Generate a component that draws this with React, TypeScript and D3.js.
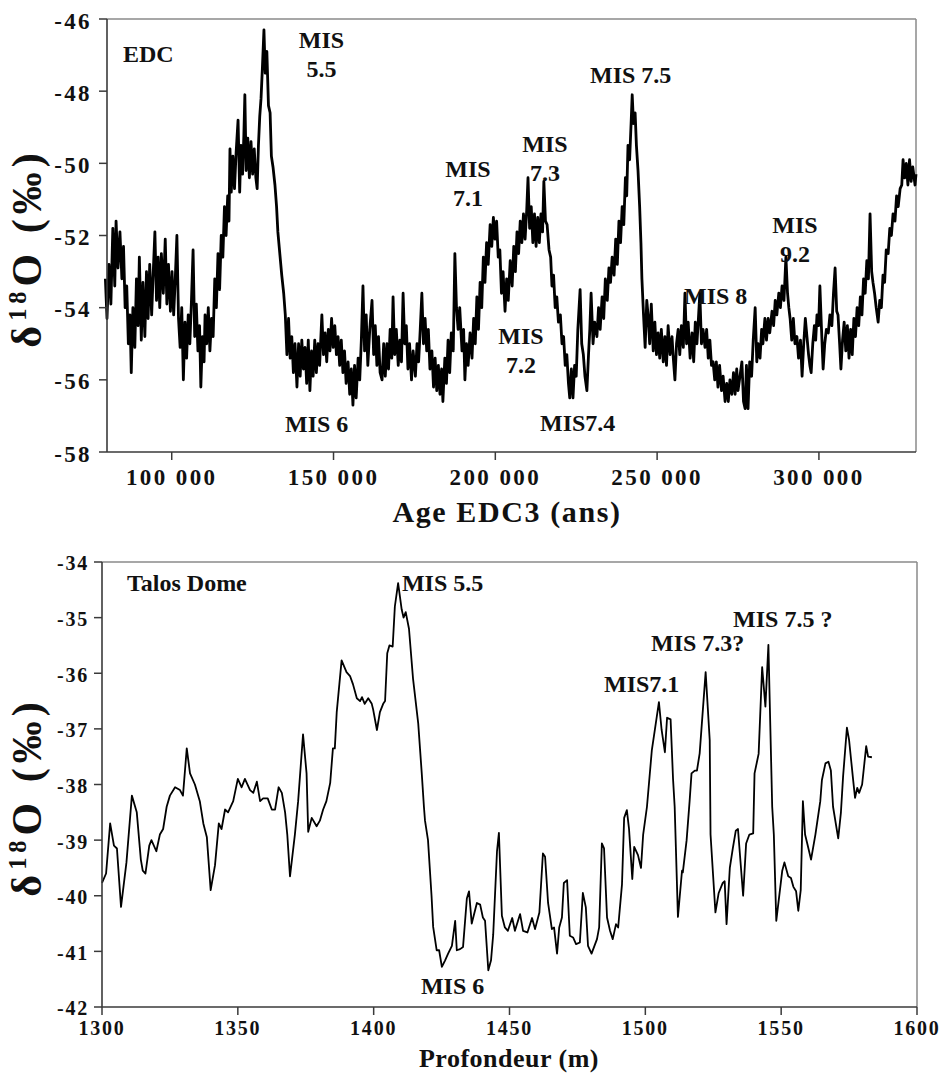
import React from 'react';
import * as d3 from 'd3';

// ---------- Data ----------
const edcYTicks = [-58, -56, -54, -52, -50, -48, -46];
const edcXTicks = [100000, 150000, 200000, 250000, 300000];
const edcXTickLabels = ['100 000', '150 000', '200 000', '250 000', '300 000'];

const talosYTicks = [-42, -41, -40, -39, -38, -37, -36, -35, -34];
const talosXTicks = [1300, 1350, 1400, 1450, 1500, 1550, 1600];

// EDC δ18O vs age (ka)
const edcSeries: [number, number][] = [
  [79.5,-53.2],[80,-54.3],[80.6,-52.8],[81.2,-53.9],[81.8,-51.8],[82.4,-53.4],[82.8,-51.6],[83.4,-52.9],[84,-51.9],[84.6,-53.2],
  [85.1,-52.3],[85.6,-54.0],[86.1,-53.4],[86.6,-55.0],[87.1,-54.2],[87.5,-55.8],[88.0,-54.0],[88.6,-55.1],[89.1,-53.2],[89.6,-54.5],
  [90.0,-52.6],[90.6,-54.9],[91.1,-53.3],[91.7,-54.8],[92.2,-53.0],[92.7,-54.3],[93.2,-52.8],[93.8,-54.2],[94.3,-53.0],[94.8,-51.9],
  [95.3,-53.8],[95.8,-52.6],[96.3,-54.0],[96.8,-52.5],[97.4,-53.6],[98.0,-52.1],[98.5,-53.9],[99.0,-52.8],[99.6,-54.1],[100.1,-53.0],
  [100.6,-54.2],[101.1,-53.2],[101.6,-52.0],[102.1,-54.3],[102.6,-55.1],[103.1,-54.0],[103.6,-56.0],[104.1,-54.4],[104.6,-55.4],[105.1,-54.2],
  [105.6,-55.0],[106.1,-53.8],[106.6,-52.4],[107.1,-54.8],[107.6,-53.9],[108.1,-55.2],[108.6,-54.5],[109.0,-56.2],[109.5,-54.8],[110.0,-55.5],
  [110.3,-54.2],[110.8,-55.0],[111.3,-54.0],[111.8,-55.2],[112.3,-54.3],[112.8,-54.8],[113.3,-53.2],[113.8,-54.0],[114.3,-52.5],[114.8,-53.5],
  [115.3,-52.0],[115.8,-52.6],[116.3,-51.2],[116.8,-52.0],[117.3,-50.9],[117.7,-51.6],[118.0,-49.6],[118.4,-50.8],[118.9,-49.8],[119.4,-50.7],
  [119.9,-49.7],[120.5,-48.8],[121.0,-50.8],[121.4,-49.5],[121.9,-50.3],[122.3,-49.2],[122.6,-48.1],[123.0,-50.2],[123.5,-49.3],[124.0,-50.4],
  [124.5,-49.4],[125.0,-50.3],[125.5,-49.6],[126.0,-50.4],[126.4,-50.7],[126.8,-49.5],[127.2,-48.7],[127.6,-48.2],[128.0,-47.4],[128.5,-46.3],
  [128.9,-47.5],[129.4,-46.9],[129.9,-48.4],[130.4,-48.6],[130.8,-49.8],[131.3,-50.1],[131.9,-50.6],[132.4,-51.2],[132.8,-51.9],[133.3,-52.4],
  [134.0,-53.1],[134.6,-53.6],[135.1,-54.2],[135.6,-55.3],[136.1,-54.3],[136.6,-55.4],[137.1,-54.8],[137.6,-55.8],[138.1,-55.0],[138.7,-56.2],
  [139.2,-55.0],[139.7,-55.9],[140.2,-54.9],[140.7,-55.7],[141.2,-55.1],[141.7,-56.1],[142.2,-54.9],[142.7,-56.3],[143.2,-55.2],[143.7,-55.9],
  [144.2,-54.9],[144.7,-55.8],[145.2,-55.0],[145.7,-55.6],[146.4,-54.2],[146.9,-55.3],[147.4,-54.7],[147.9,-55.5],[148.4,-54.6],[148.9,-55.2],
  [149.4,-54.3],[149.9,-55.1],[150.4,-54.5],[150.9,-55.3],[151.4,-54.8],[151.9,-55.6],[152.4,-54.9],[152.9,-55.8],[153.4,-55.2],[153.9,-56.1],
  [154.5,-55.5],[155.0,-56.4],[155.5,-55.7],[156.0,-56.7],[156.5,-55.6],[157.0,-56.5],[157.6,-55.4],[158.1,-56.0],[158.6,-54.9],[159.1,-53.4],
  [159.6,-55.2],[160.1,-54.2],[160.6,-55.6],[161.2,-54.6],[161.9,-53.8],[162.4,-55.3],[162.9,-54.5],[163.4,-55.6],[163.9,-54.8],[164.4,-55.8],
  [165.0,-56.0],[165.5,-55.0],[166.0,-55.9],[166.5,-55.0],[167.0,-55.7],[167.5,-54.6],[168.0,-55.4],[168.4,-53.7],[168.9,-55.3],[169.4,-54.6],
  [170.0,-55.6],[170.5,-54.9],[171.0,-55.5],[171.5,-53.6],[172.0,-55.0],[172.5,-54.5],[173.0,-55.7],[173.5,-55.0],[174.1,-56.0],[174.6,-55.2],
  [175.3,-55.9],[175.8,-55.0],[176.3,-55.5],[176.8,-54.6],[177.3,-53.6],[177.8,-55.0],[178.3,-54.3],[178.8,-55.2],[179.3,-54.6],[179.8,-55.7],
  [180.4,-55.2],[180.9,-56.2],[181.4,-55.4],[181.9,-56.3],[182.4,-55.6],[182.9,-56.4],[183.4,-55.7],[183.8,-56.6],[184.4,-55.4],[184.9,-56.1],
  [185.4,-54.9],[185.9,-55.8],[186.4,-54.7],[187.0,-55.2],[187.5,-52.5],[188.0,-54.0],[188.5,-54.6],[189.0,-54.0],[189.7,-55.2],[190.2,-54.6],
  [190.6,-56.0],[191.1,-55.0],[191.6,-55.6],[192.2,-54.7],[192.8,-55.4],[193.3,-54.3],[193.8,-55.0],[194.3,-53.7],[194.8,-54.6],[195.3,-53.3],
  [195.8,-54.0],[196.3,-52.6],[196.8,-53.3],[197.3,-52.2],[197.8,-52.8],[198.4,-51.7],[198.9,-52.3],[199.4,-51.5],[199.9,-52.1],[200.4,-51.6],
  [200.9,-52.6],[201.4,-52.4],[201.9,-53.6],[202.4,-53.0],[203.0,-54.1],[203.5,-53.2],[204.0,-53.8],[204.6,-52.7],[205.2,-53.4],[205.7,-52.3],
  [206.2,-53.0],[206.7,-51.9],[207.2,-52.5],[207.7,-51.6],[208.2,-52.2],[208.7,-51.4],[209.2,-52.1],[209.7,-51.3],[210.1,-50.4],[210.6,-51.8],
  [211.1,-51.2],[211.6,-52.2],[212.1,-51.4],[212.6,-52.3],[213.1,-51.5],[213.6,-52.2],[214.1,-51.4],[214.6,-51.9],[215.0,-50.5],[215.5,-51.6],
  [216.0,-51.7],[216.6,-52.4],[217.1,-52.6],[217.5,-53.4],[218.0,-53.1],[218.5,-54.0],[219.0,-53.7],[219.5,-54.4],[220.1,-54.2],[220.6,-55.0],
  [221.1,-54.8],[221.6,-55.6],[222.1,-55.3],[222.6,-56.1],[223.0,-56.5],[223.5,-55.7],[224.0,-56.5],[224.5,-55.6],[225.0,-55.9],[225.5,-54.6],
  [226.2,-53.5],[226.7,-55.0],[227.2,-55.3],[227.7,-55.9],[228.3,-56.3],[228.8,-55.3],[229.2,-54.6],[229.6,-53.6],[230.2,-55.0],[230.7,-54.4],
  [231.4,-54.8],[231.9,-54.0],[232.4,-54.6],[233.0,-53.7],[233.5,-54.3],[234.0,-53.2],[234.6,-53.8],[235.1,-52.9],[235.6,-53.3],[236.1,-52.6],
  [236.7,-53.1],[237.2,-52.1],[237.7,-52.8],[238.2,-51.6],[238.7,-52.2],[239.2,-51.2],[239.7,-51.7],[240.2,-50.4],[240.6,-50.9],[241.0,-49.5],
  [241.5,-49.9],[242.0,-48.8],[242.3,-48.1],[242.7,-48.9],[243.2,-48.6],[243.6,-49.5],[244.1,-50.2],[244.6,-51.2],[245.0,-52.2],[245.3,-53.2],
  [245.8,-54.2],[246.3,-55.1],[246.8,-53.8],[247.2,-54.2],[247.7,-55.0],[248.2,-53.9],[248.8,-55.2],[249.3,-54.4],[249.8,-55.3],[250.3,-54.7],
  [250.8,-55.4],[251.3,-54.6],[251.9,-55.5],[252.4,-54.8],[252.9,-55.6],[253.4,-54.5],[254.0,-55.3],[254.6,-54.8],[255.0,-55.4],[255.5,-56.0],
  [256.0,-55.0],[256.5,-54.6],[257.0,-55.3],[257.5,-54.5],[258.1,-55.1],[258.6,-53.6],[259.1,-55.0],[259.6,-54.4],[260.2,-55.4],[260.8,-54.7],
  [261.3,-55.5],[261.8,-54.4],[262.3,-55.0],[262.7,-54.4],[263.2,-53.6],[263.7,-55.0],[264.2,-54.6],[264.8,-55.1],[265.3,-54.6],[265.8,-55.4],
  [266.3,-54.9],[266.8,-55.6],[267.3,-55.5],[267.8,-56.0],[268.3,-55.5],[268.8,-56.2],[269.3,-55.6],[269.9,-56.3],[270.4,-55.9],[271.0,-56.6],
  [271.5,-56.1],[272.0,-56.6],[272.5,-56.0],[273.1,-56.4],[273.6,-55.8],[274.1,-56.4],[274.6,-55.7],[275.0,-56.3],[275.6,-55.9],[276.2,-55.5],
  [276.7,-56.6],[277.2,-56.8],[277.6,-55.6],[278.1,-56.8],[278.6,-55.5],[279.2,-55.9],[279.7,-54.9],[280.3,-54.0],[280.8,-55.5],[281.2,-55.0],
  [281.8,-55.4],[282.3,-54.6],[282.7,-55.0],[283.3,-54.3],[283.8,-54.9],[284.3,-54.3],[284.8,-54.7],[285.5,-54.1],[286.0,-54.5],[286.5,-53.8],
  [287.0,-54.2],[287.6,-53.6],[288.1,-54.0],[288.6,-53.4],[289.2,-53.8],[289.8,-52.6],[290.3,-53.6],[290.7,-54.0],[291.1,-54.3],[291.6,-54.9],
  [292.1,-54.3],[292.6,-55.0],[293.2,-54.8],[293.7,-55.4],[294.3,-54.9],[294.8,-55.9],[295.3,-55.0],[295.8,-54.3],[296.3,-54.8],[296.8,-55.3],
  [297.2,-55.6],[297.6,-55.8],[298.1,-55.0],[298.6,-54.5],[299.0,-54.9],[299.4,-54.2],[299.9,-54.5],[300.3,-53.4],[300.8,-54.6],[301.3,-55.7],
  [301.8,-55.0],[302.3,-54.6],[302.9,-54.7],[303.4,-54.2],[304.0,-54.5],[304.5,-53.6],[305.0,-52.9],[305.5,-54.1],[305.9,-54.2],[306.4,-55.0],
  [306.8,-55.7],[307.3,-54.9],[307.8,-54.4],[308.3,-55.2],[308.8,-54.5],[309.3,-55.4],[309.8,-54.6],[310.3,-55.3],[310.8,-54.3],[311.3,-54.8],
  [311.8,-54.0],[312.3,-54.5],[312.8,-53.7],[313.3,-54.2],[313.8,-53.2],[314.3,-53.6],[314.8,-52.7],[315.3,-53.2],[315.8,-51.4],[316.3,-53.0],
  [316.7,-53.3],[317.2,-53.6],[317.7,-54.0],[318.3,-54.4],[318.8,-53.8],[319.3,-54.0],[319.8,-53.1],[320.3,-53.3],[320.8,-52.4],[321.4,-52.5],
  [321.9,-51.8],[322.4,-52.0],[322.9,-51.4],[323.5,-51.6],[324.0,-50.9],[324.5,-51.2],[325.1,-50.7],[325.6,-50.6],[326.0,-49.9],[326.5,-50.4],
  [327.0,-50.0],[327.5,-50.6],[328.0,-49.9],[328.5,-50.5],[329.0,-50.1],[329.7,-50.6],[330.0,-50.3],
];

// Talos Dome δ18O vs depth (m)
const talosSeries: [number, number][] = [
  [1300,-39.77],[1301.5,-39.6],[1303,-38.7],[1304.4,-39.1],[1305.5,-39.15],[1307,-40.2],[1309,-39.4],[1311,-38.2],[1312.8,-38.5],[1314.3,-39.35],
  [1315,-39.55],[1316,-39.6],[1317.4,-39.1],[1318.2,-39.0],[1320,-39.2],[1321.3,-38.9],[1322.5,-38.8],[1323.8,-38.4],[1325,-38.2],[1326.9,-38.05],
  [1328.7,-38.1],[1329.8,-38.2],[1331.2,-37.35],[1332.4,-37.8],[1334.2,-38.0],[1336,-38.3],[1337.3,-38.7],[1338.6,-38.95],[1340,-39.9],[1341.6,-39.45],
  [1343,-38.7],[1344,-38.8],[1345.3,-38.45],[1346.4,-38.5],[1348.3,-38.3],[1350,-37.9],[1351.4,-38.05],[1352.6,-37.9],[1354.5,-38.1],[1355.7,-38.15],
  [1357,-37.95],[1358.2,-38.3],[1359.3,-38.25],[1361,-38.25],[1362.5,-38.45],[1363.7,-38.45],[1365,-38.05],[1366.2,-38.15],[1367.4,-38.5],[1368.2,-38.9],
  [1369.2,-39.65],[1371,-38.9],[1372.2,-38.3],[1374,-37.1],[1375.3,-37.8],[1375.9,-38.85],[1377.2,-38.6],[1379,-38.75],[1380.2,-38.65],[1381.4,-38.45],
  [1382.6,-38.3],[1384,-37.97],[1385,-37.35],[1385.7,-37.35],[1386.4,-36.7],[1388.2,-35.77],[1390,-35.98],[1391.3,-36.05],[1392.4,-36.2],[1393.8,-36.45],
  [1395,-36.5],[1395.7,-36.43],[1396.7,-36.55],[1398,-36.45],[1399.3,-36.55],[1399.8,-36.65],[1401.2,-37.02],[1402.3,-36.7],[1403.5,-36.55],[1404.2,-36.5],
  [1405,-35.64],[1405.8,-35.5],[1407,-35.52],[1407.8,-34.8],[1409,-34.38],[1410.3,-34.85],[1411,-35.0],[1411.8,-34.9],[1413,-35.2],[1414.5,-36.1],
  [1416.4,-36.9],[1417.7,-37.8],[1418.5,-38.4],[1418.9,-38.65],[1420,-39.0],[1421.3,-40.0],[1421.9,-40.56],[1423.2,-40.98],[1424.1,-40.98],[1425.1,-41.28],
  [1426.3,-41.16],[1427.4,-41.04],[1428.8,-40.9],[1430,-40.45],[1430.6,-40.98],[1431.8,-40.96],[1432.9,-40.92],[1434.3,-40.05],[1435.1,-39.92],[1436.1,-40.5],
  [1438,-40.13],[1439.2,-40.16],[1440.2,-40.39],[1441,-40.45],[1442.2,-41.34],[1443.2,-41.16],[1444,-40.7],[1445.4,-39.2],[1446.1,-38.87],[1447.2,-40.36],
  [1448.3,-40.57],[1449.4,-40.63],[1451,-40.4],[1452,-40.63],[1453.9,-40.33],[1455,-40.63],[1456.6,-40.66],[1458.3,-40.4],[1459.4,-40.6],[1461,-40.3],
  [1462.3,-39.24],[1463.1,-39.3],[1464.2,-40.13],[1465.6,-40.6],[1466.4,-40.57],[1467.5,-41.04],[1468.3,-40.57],[1469.3,-40.39],[1470,-39.77],[1471.2,-39.72],
  [1472.2,-40.72],[1473.4,-40.75],[1474.5,-40.87],[1475.9,-40.84],[1477,-39.95],[1478.1,-40.21],[1478.9,-40.9],[1480.2,-41.04],[1482.2,-40.78],[1483,-40.57],
  [1484,-39.06],[1484.8,-39.15],[1485.9,-40.39],[1487,-40.63],[1488,-40.78],[1489.2,-40.51],[1490,-40.57],[1491.4,-39.8],[1492.2,-38.6],[1493.2,-38.46],
  [1494,-38.8],[1495.2,-39.7],[1495.9,-39.12],[1497.3,-39.27],[1498.4,-39.5],[1499.2,-38.9],[1500.6,-38.4],[1502.4,-37.38],[1503.5,-37.02],[1505,-36.52],
  [1506,-37.02],[1507.2,-37.42],[1508,-36.8],[1509.3,-36.83],[1510.2,-37.9],[1510.8,-38.4],[1512,-40.38],[1513.5,-39.55],[1513.8,-39.58],[1515.2,-39.0],
  [1516.3,-38.3],[1517,-37.8],[1518.2,-37.75],[1519,-37.75],[1520,-37.44],[1522.2,-35.98],[1523.7,-37.2],[1524,-38.9],[1525.8,-40.3],[1527,-39.95],
  [1528.5,-39.77],[1529.2,-39.74],[1529.9,-40.51],[1531.1,-39.5],[1532.2,-39.15],[1533.3,-38.83],[1534.1,-38.8],[1536,-40.0],[1537.1,-39.06],[1538.3,-38.9],
  [1539.7,-38.88],[1540.2,-37.8],[1541.7,-37.45],[1543,-35.89],[1544.2,-36.6],[1545.3,-35.49],[1546.7,-38.4],[1547.3,-38.9],[1548.2,-40.45],[1550.4,-39.55],
  [1551.2,-39.4],[1552.6,-39.65],[1553.6,-39.68],[1554.5,-39.84],[1555.5,-39.92],[1556.3,-40.27],[1557.2,-39.9],[1558,-38.3],[1558.8,-38.9],[1559.8,-39.1],
  [1561,-39.35],[1562.6,-38.9],[1564.4,-38.3],[1565,-37.92],[1566.3,-37.62],[1567.4,-37.59],[1568.3,-37.75],[1569.1,-38.4],[1571,-38.97],[1572,-38.5],
  [1572.8,-37.85],[1574.2,-36.98],[1575,-37.2],[1576.5,-37.92],[1577.2,-38.24],[1578,-38.06],[1578.7,-38.15],[1579.8,-38.0],[1581.3,-37.31],[1582,-37.5],
  [1583.4,-37.51],
];

// Annotations: text lines, x in data units, baseline y in data units, anchor
type Note = { lines: string[]; x: number; y: number; anchor: 'start' | 'middle' };
const edcNotes: Note[] = [
  { lines: ['EDC'], x: 84944, y: -47.19, anchor: 'start' },
  { lines: ['MIS', '5.5'], x: 146286, y: -46.81, anchor: 'middle' },
  { lines: ['MIS', '7.1'], x: 191558, y: -50.39, anchor: 'middle' },
  { lines: ['MIS', '7.3'], x: 215353, y: -49.69, anchor: 'middle' },
  { lines: ['MIS 7.5'], x: 229258, y: -47.78, anchor: 'start' },
  { lines: ['MIS', '9.2'], x: 292608, y: -51.92, anchor: 'middle' },
  { lines: ['MIS', '7.2'], x: 207936, y: -55.0, anchor: 'middle' },
  { lines: ['MIS7.4'], x: 213807, y: -57.42, anchor: 'start' },
  { lines: ['MIS 8'], x: 258307, y: -53.89, anchor: 'start' },
  { lines: ['MIS 6'], x: 135006, y: -57.44, anchor: 'start' },
];
const talosNotes: Note[] = [
  { lines: ['Talos Dome'], x: 1309.2, y: -34.52, anchor: 'start' },
  { lines: ['MIS 5.5'], x: 1410.4, y: -34.52, anchor: 'start' },
  { lines: ['MIS7.1'], x: 1484.8, y: -36.34, anchor: 'start' },
  { lines: ['MIS 7.3?'], x: 1502.1, y: -35.6, anchor: 'start' },
  { lines: ['MIS 7.5 ?'], x: 1532.3, y: -35.17, anchor: 'start' },
  { lines: ['MIS 6'], x: 1417.4, y: -41.77, anchor: 'start' },
];

const FONT = "'Liberation Serif', 'Times New Roman', Times, serif";

type PanelProps = {
  x: d3.ScaleLinear<number, number>;
  y: d3.ScaleLinear<number, number>;
  xTicks: number[];
  xLabels: string[];
  yTicks: number[];
  series: [number, number][];
  xMul: number;
  notes: Note[];
  tickFont: number;
  tickSpacing: number;
  xLabelBaseline: number;
  yLabelGap: number;
  strokeWidth: number;
  xTitle: string;
  xTitleX: number;
  xTitleY: number;
  xTitleSize: number;
  xTitleSpacing: number;
  yTitleX: number;
  yTitleY: number;
  yTitleSize: number;
};

function Panel(p: PanelProps) {
  const [x0, x1] = p.x.range();
  const [y0, y1] = p.y.range(); // y0 bottom, y1 top
  const line = d3
    .line<[number, number]>()
    .x((d) => p.x(d[0] * p.xMul))
    .y((d) => p.y(d[1]))
    .curve(d3.curveLinear);
  const tStyle = { fontFamily: FONT, fontWeight: 700 } as React.CSSProperties;
  return (
    <g fill="#111">
      {/* plot frame */}
      <line x1={x0} x2={x1} y1={y1} y2={y1} stroke="#8a8a8a" strokeWidth={1.5} />
      <line x1={x1} x2={x1} y1={y1} y2={y0} stroke="#8a8a8a" strokeWidth={1.5} />
      <path d={line(p.series) || ''} fill="none" stroke="#000" strokeWidth={p.strokeWidth} strokeLinejoin="round" />
      {/* axes */}
      <line x1={x0} x2={x1} y1={y0} y2={y0} stroke="#3a3a3a" strokeWidth={1.6} />
      <line x1={x0} x2={x0} y1={y0} y2={y1} stroke="#3a3a3a" strokeWidth={1.6} />
      {p.yTicks.map((t) => (
        <g key={'y' + t}>
          <line x1={x0 - 8} x2={x0} y1={p.y(t)} y2={p.y(t)} stroke="#3a3a3a" strokeWidth={1.5} />
          <text
            x={x0 - p.yLabelGap}
            y={p.y(t) + p.tickFont * 0.42}
            textAnchor="end"
            style={{ ...tStyle, fontSize: p.tickFont, letterSpacing: p.tickSpacing }}
          >
            {t}
          </text>
        </g>
      ))}
      {p.xTicks.map((t, i) => (
        <g key={'x' + t}>
          <line x1={p.x(t)} x2={p.x(t)} y1={y0} y2={y0 + 8} stroke="#3a3a3a" strokeWidth={1.5} />
          <text
            x={p.x(t)}
            y={p.xLabelBaseline}
            textAnchor="middle"
            style={{ ...tStyle, fontSize: p.tickFont, letterSpacing: p.tickSpacing }}
          >
            {p.xLabels[i]}
          </text>
        </g>
      ))}
      {p.notes.map((n, i) => (
        <text key={'n' + i} x={p.x(n.x)} y={p.y(n.y)} textAnchor={n.anchor} style={{ ...tStyle, fontSize: 24 }}>
          {n.lines.map((l, j) => (
            <tspan key={j} x={p.x(n.x)} dy={j === 0 ? 0 : 29}>
              {l}
            </tspan>
          ))}
        </text>
      ))}
      <text
        x={p.xTitleX}
        y={p.xTitleY}
        textAnchor="middle"
        style={{ ...tStyle, fontSize: p.xTitleSize, letterSpacing: p.xTitleSpacing }}
      >
        {p.xTitle}
      </text>
      <text
        transform={`translate(${p.yTitleX},${p.yTitleY}) rotate(-90)`}
        textAnchor="middle"
        style={{ ...tStyle, fontSize: p.yTitleSize, letterSpacing: 5 }}
      >
        δ
        <tspan dy={-p.yTitleSize * 0.36} style={{ fontSize: p.yTitleSize * 0.58 }}>
          18
        </tspan>
        <tspan dy={p.yTitleSize * 0.36}>O (‰)</tspan>
      </text>
    </g>
  );
}

export default function App() {
  const xEdc = d3.scaleLinear().domain([80000, 330000]).range([107, 916]);
  const yEdc = d3.scaleLinear().domain([-58, -46]).range([452, 19]);
  const xTal = d3.scaleLinear().domain([1300, 1600]).range([102, 917]);
  const yTal = d3.scaleLinear().domain([-42, -34]).range([1007, 562]);

  return (
    <svg
      width={944}
      height={1075}
      viewBox="0 0 944 1075"
      style={{ position: 'absolute', left: 0, top: 0, display: 'block', background: '#fff' }}
    >
      <rect x={0} y={0} width={944} height={1075} fill="#fff" />
      <Panel
        x={xEdc}
        y={yEdc}
        xTicks={edcXTicks}
        xLabels={edcXTickLabels}
        yTicks={edcYTicks}
        series={edcSeries}
        xMul={1000}
        notes={edcNotes}
        tickFont={23}
        tickSpacing={2.4}
        xLabelBaseline={485}
        yLabelGap={15}
        strokeWidth={2.8}
        xTitle="Age EDC3 (ans)"
        xTitleX={507}
        xTitleY={522}
        xTitleSize={30}
        xTitleSpacing={1.6}
        yTitleX={41}
        yTitleY={248}
        yTitleSize={42}
      />
      <Panel
        x={xTal}
        y={yTal}
        xTicks={talosXTicks}
        xLabels={talosXTicks.map(String)}
        yTicks={talosYTicks}
        series={talosSeries}
        xMul={1}
        notes={talosNotes}
        tickFont={20}
        tickSpacing={1.8}
        xLabelBaseline={1035}
        yLabelGap={13}
        strokeWidth={1.8}
        xTitle="Profondeur (m)"
        xTitleX={509}
        xTitleY={1067}
        xTitleSize={26}
        xTitleSpacing={0.5}
        yTitleX={41}
        yTitleY={797}
        yTitleSize={42}
      />
    </svg>
  );
}
